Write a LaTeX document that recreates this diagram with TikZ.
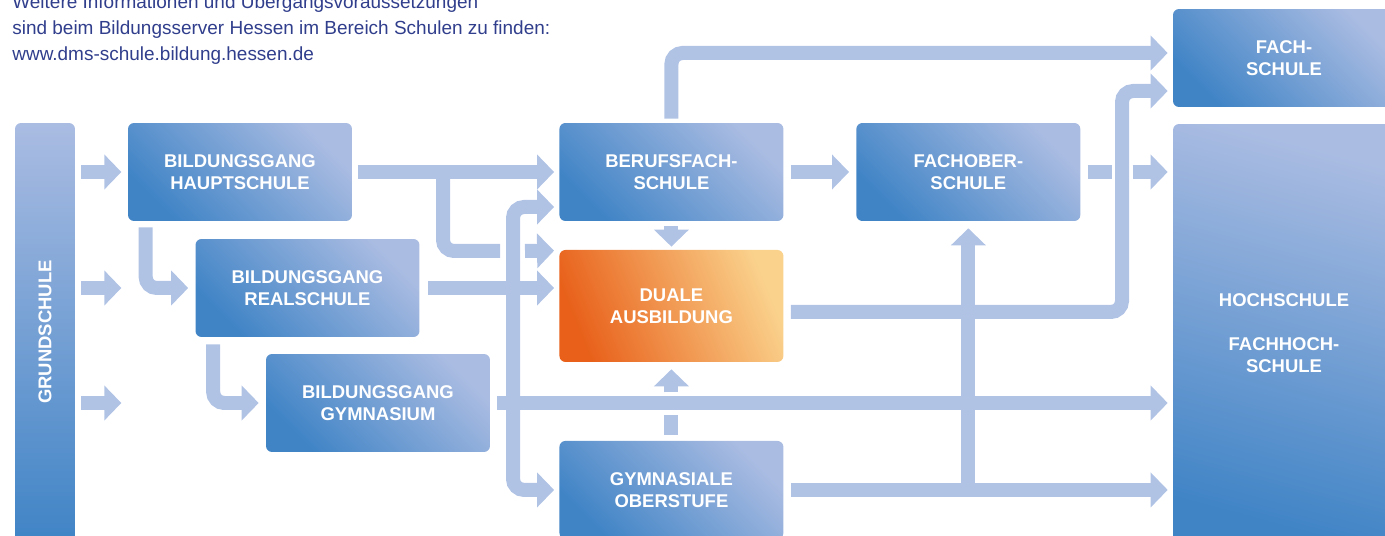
\documentclass[tikz,border=0pt]{standalone}
\usepackage{fontspec}
\setmainfont{Liberation Sans}
\usepackage{tikz}
\usetikzlibrary{arrows.meta}
\usetikzlibrary{positioning}
\usetikzlibrary{calc}
\definecolor{boxdark}{RGB}{64,132,198}
\definecolor{boxlight}{RGB}{170,188,226}
\definecolor{flowblue}{RGB}{177,195,229}
\definecolor{dualdark}{RGB}{232,96,26}
\definecolor{duallight}{RGB}{250,210,140}
\definecolor{infoblue}{RGB}{48,62,140}
\tikzset{
  % boxes of the school types
  box/.style={rectangle, rounded corners=0.12cm, minimum width=4.48cm, minimum height=1.96cm,
    inner sep=0pt, align=center, text=white, font=\bfseries\fontsize{10.5}{12.5}\selectfont,
    top color=boxlight, bottom color=boxdark, shading angle=-45},
  tallbox/.style={box, top color=boxlight, bottom color=boxdark, shading angle=#1},
  % broad arrows
  bar/.style={draw=flowblue, line width=0.28cm, rounded corners=0.22cm},
  flow/.style={bar, -{Triangle[width=0.68cm,length=0.34cm]}}
}

\begin{document}
\begin{tikzpicture}[x=0.02cm, y=-0.02cm]
    \clip (0,0) rectangle (1385,536);

    % Place nodes
    \node[anchor=base west, align=left, inner sep=0pt, text=infoblue, font=\fontsize{10.8}{15}\selectfont] (info) at (12,61)
      {Weitere Informationen und Übergangsvoraussetzungen\\sind beim Bildungsserver Hessen im Bereich Schulen zu finden:\\www.dms-schule.bildung.hessen.de};
    \node[tallbox=0, minimum width=1.2cm, minimum height=8.36cm] (grund) at (45,332) {\rotatebox{90}{GRUNDSCHULE}};
    \node[box] (haupt) at (240,172) {BILDUNGSGANG\\HAUPTSCHULE};
    \node[box] (real) at (307.5,288) {BILDUNGSGANG\\REALSCHULE};
    \node[box] (gymn) at (378,403) {BILDUNGSGANG\\GYMNASIUM};
    \node[box, right of=haupt, node distance=8.63cm] (beruf) {BERUFSFACH-\\SCHULE};
    \node[box, below of=beruf, node distance=2.68cm, minimum height=2.24cm,
      top color=duallight, bottom color=dualdark, shading angle=-68] (duale) {DUALE\\AUSBILDUNG};
    \node[box, below of=duale, node distance=3.68cm] (oberst) {GYMNASIALE\\OBERSTUFE};
    \node[box, right of=beruf, node distance=5.94cm] (fos) {FACHOBER-\\SCHULE};
    \node[box, minimum width=4.44cm] (fach) at (1284,58) {FACH-\\SCHULE};
    \node[tallbox=-15, minimum width=4.44cm, minimum height=8.38cm] (hoch) at (1284,333.5)
      {HOCHSCHULE\\[12.5pt]FACHHOCH-\\SCHULE};

    % Grundschule
    \foreach \n in {haupt, real, gymn}
      \draw[flow] ($(grund.east |- \n.west)+(6,0)$) -- ++(40,0);

    % Hauptschule
    \draw[flow, shorten <=0.12cm, shorten >=0.1cm] (haupt) -- (beruf);
    \coordinate (hb) at (443,172);
    \coordinate (hbend) at (500,251);
    \draw[bar] (hb) |- (hbend);
    \draw[flow] ($(hbend)+(25,0)$) -- ($(duale.north west)+(-5,1)$);
    \draw[flow] ($(haupt.south west)+(18,6)$) |- ($(real.west)+(-7,0)$);

    % Realschule
    \draw[flow] ($(real.south west)+(18,7)$) |- ($(gymn.west)+(-7,0)$);
    \draw[flow, shorten <=0.16cm, shorten >=0.1cm] (real) -- (duale.west |- real);

    % Gymnasium
    \draw[flow, shorten <=0.14cm, shorten >=0.1cm] (gymn) -- (hoch.west |- gymn);
    \coordinate (gb) at (513,403);
    \draw[flow] (gb) |- ($(beruf.west)+(-5,35)$);
    \draw[flow] (gb) |- ($(oberst.west)+(-5,0)$);

    % Berufsfachschule
    \draw[flow, shorten <=0.1cm, shorten >=0.06cm] (beruf) -- (duale);
    \draw[flow, shorten <=0.14cm, shorten >=0.14cm] (beruf) -- (fos);
    \draw[flow] ($(beruf.north)+(0,-4)$) |- ($(fach.west)+(-5,-5)$);

    % Gymnasiale Oberstufe
    \draw[bar] ($(oberst.north)+(0,-6)$) -- ++(0,-20);
    \draw[flow] ($(duale.south)+(0,30)$) -- ($(duale.south)+(0,7)$);
    \draw[flow, shorten <=0.14cm, shorten >=0.1cm] (oberst) -- (hoch.west |- oberst);
    \draw[flow] (fos.south |- oberst.east) -- ($(fos.south)+(0,7)$);

    % Fachoberschule
    \draw[bar, shorten <=0.14cm] (fos.east) -- ++(31,0);
    \draw[flow] ($(hoch.west |- fos)+(-40,0)$) -- ($(hoch.west |- fos)+(-5,0)$);

    % Duale Ausbildung
    \coordinate (df) at (1122,91);
    \draw[flow] ($(duale.east)+(7,6)$) -| (df) -- ($(fach.west)+(-5,33)$);

\end{tikzpicture}
\end{document}
